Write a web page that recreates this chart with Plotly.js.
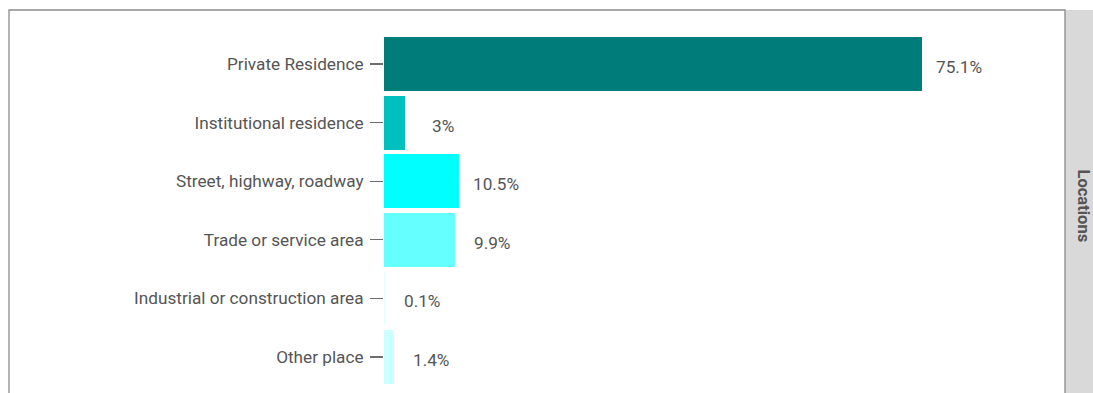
<!DOCTYPE html>
<html>
<head>
<meta charset="utf-8">
<script src="https://cdn.plot.ly/plotly-3.0.1.min.js"></script>
<style>
html,body{margin:0;padding:0;overflow:hidden;background:#fff;}
#chart{width:1093px;height:393px;}
</style>
</head>
<body>
<div id="chart"></div>
<script>
const categories = ["Private Residence", "Institutional residence", "Street, highway, roadway", "Trade or service area", "Industrial or construction area", "Other place"];
const values = [75.1, 3, 10.5, 9.9, 0.1, 1.4];
const labels = ["75.1%", "3%", "10.5%", "9.9%", "0.1%", "1.4%"];
const barColors = ["#007D7B", "#00BFBF", "#00FFFF", "#66FFFF", "#E0FFFF", "#CCFFFF"];
const stripLabel = "Locations";

const labelOffset = 5.2;

const W = 1093, H = 393;
const plotLeft = 384, plotRight = 1065, plotTop = 10;
const pw = plotRight - plotLeft;

const traces = [
  {
    type: "bar",
    orientation: "h",
    y: categories,
    x: values,
    width: 0.92,
    marker: {color: barColors, line: {width: 0}},
    hoverinfo: "none",
    showlegend: false
  }
];

const valueAnnotations = categories.map((c, i) => ({
  xref: "x", yref: "y",
  x: values[i] + labelOffset,
  y: c,
  text: labels[i],
  showarrow: false,
  xanchor: "center", yanchor: "middle",
  yshift: -3,
  font: {family: "Roboto, sans-serif", size: 17.2, color: "#555555"}
}));

const layout = {
  width: W,
  height: H,
  margin: {l: plotLeft, r: W - plotRight, t: plotTop, b: 0, pad: 0},
  paper_bgcolor: "#FFFFFF",
  plot_bgcolor: "#FFFFFF",
  font: {family: "Roboto, sans-serif", color: "#555555"},
  bargap: 0,
  xaxis: {
    range: [0, 95.06],
    showgrid: false,
    zeroline: false,
    showticklabels: false,
    ticks: "",
    showline: false,
    fixedrange: true
  },
  yaxis: {
    type: "category",
    categoryorder: "array",
    categoryarray: categories,
    range: [5.614, -0.922],
    showgrid: false,
    zeroline: false,
    showline: false,
    ticks: "outside",
    ticklen: 13,
    tickwidth: 1.1,
    tickcolor: "#6E6E6E",
    ticklabelstandoff: 3,
    ticklabelshift: -3.5,
    tickfont: {family: "Roboto, sans-serif", size: 17.2, color: "#555555"},
    fixedrange: true
  },
  shapes: [
    {
      type: "rect", xref: "paper", yref: "paper",
      x0: 1, x1: 1 + 40 / pw, y0: -0.2, y1: 1,
      fillcolor: "#D9D9D9", line: {width: 0}, layer: "below"
    },
    {
      type: "rect", xref: "paper", yref: "paper",
      x0: (9 - plotLeft) / pw, x1: 1, y0: -0.2, y1: 1,
      fillcolor: "rgba(0,0,0,0)", line: {color: "#8A8A8A", width: 1.3}, layer: "above"
    }
  ],
  annotations: valueAnnotations.concat([
    {
      xref: "paper", yref: "paper",
      x: 1 + 18.5 / pw, y: 1 - (206 - plotTop) / (H - plotTop),
      text: stripLabel,
      textangle: 90,
      showarrow: false,
      xanchor: "center", yanchor: "middle",
      font: {family: "Roboto, sans-serif", size: 16.5, color: "#555555", weight: 700}
    }
  ])
};

Plotly.newPlot("chart", traces, layout, {displayModeBar: false, staticPlot: true});
</script>
</body>
</html>
